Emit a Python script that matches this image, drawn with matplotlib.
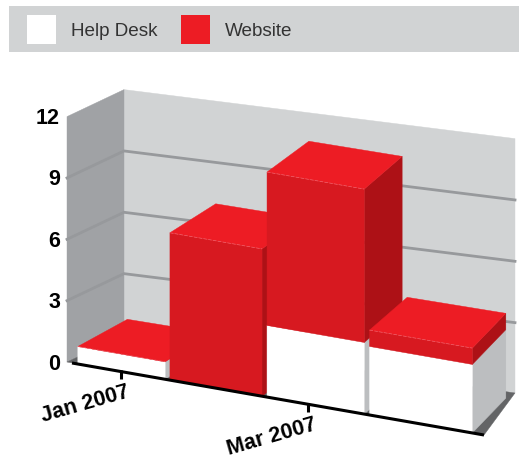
import numpy as np
import matplotlib
matplotlib.use("Agg")
import matplotlib.pyplot as plt
from matplotlib.patches import Polygon, Rectangle

categories = ["Jan 2007", "Feb 2007", "Mar 2007", "Apr 2007"]
help_desk = [0.85, 0.0, 3.5, 3.35]
website = [0.0, 7.2, 7.5, 0.8]
series_names = ["Help Desk", "Website"]
y_ticks = [0, 3, 6, 9, 12]
x_tick_labels = ["Jan 2007", "Mar 2007"]
x_tick_slots = [0.0, 1.93]

FONT = "Liberation Sans"
WALL = "#D1D3D4"; SIDE_WALL = "#A0A2A5"; GRID = "#97999C"; FLOOR = "#636466"
RED_TOP = "#ED1C24"; RED_FRONT = "#D71920"; RED_SIDE = "#AD1116"
WHITE_FRONT = "#FFFFFF"; WHITE_SIDE = "#BCBEC0"

# projection of the pseudo-3D scene onto the picture
F0, F1 = np.array([67., 362.]), np.array([484., 435.])
B0, B1 = np.array([124., 335.]), np.array([515., 384.])
FLOOR_BACK_RIGHT = np.array([515., 393.])
UNIT = 20.45
WARP = 1.12

def warp(u):
    return u / (WARP - (WARP - 1) * u)

def front(u, v=0.0):
    p = F0 + (F1 - F0) * warp(u)
    return p - np.array([0, v * UNIT])

def back(u, v=0.0):
    p = B0 + (B1 - B0) * warp(u)
    return p - np.array([0, v * UNIT])

def bar_pt(u, d, v):
    w = warp(u)
    depth = np.array([50 - 17 * w, -27 - 8 * w])
    return front(u, v) + depth * d

SLOT0, SLOT, BAR_W = 0.029, 0.2395, 0.2275

def tick_u(slot):
    return SLOT0 + SLOT * slot + BAR_W / 2

fig = plt.figure(figsize=(5.19, 4.62), dpi=100)
ax = fig.add_axes([0, 0, 1, 1])
ax.set_xlim(0, 519); ax.set_ylim(462, 0); ax.axis("off")

def poly(pts, color, z=1, ec=None, lw=0):
    ax.add_patch(Polygon(np.array(pts), closed=True, fc=color, ec=ec or color, lw=lw or 0.3, zorder=z, joinstyle="round"))

# legend band
ax.add_patch(Rectangle((9, 6), 510, 46, fc=WALL, ec="none", zorder=1))
for x, tx, name, col in zip([27, 181], [71, 225], series_names, ["#FFFFFF", RED_TOP]):
    ax.add_patch(Rectangle((x, 15), 29, 29, fc=col, ec="none", zorder=2))
    ax.text(tx, 31, name, fontsize=13.6, family=FONT, color="#333333", va="center", ha="left", zorder=3)

# walls and floor
top = y_ticks[-1]
poly([back(0), FLOOR_BACK_RIGHT, back(1, top), back(0, top)], WALL, 1)
poly([front(0), back(0), back(0, top), front(0, top)], SIDE_WALL, 1)
poly([front(0), front(1), FLOOR_BACK_RIGHT, back(0)], FLOOR, 1.5)
for v in y_ticks[1:-1]:
    a, b, c = front(0, v), back(0, v), back(1, v)
    ax.plot([a[0], b[0], c[0]], [a[1], b[1], c[1]], color=GRID, lw=2.0, zorder=2, solid_joinstyle="miter")

# bars, left to right
for i in range(len(categories)):
    u0 = SLOT0 + SLOT * i
    u1 = u0 + BAR_W
    z = 3 + i
    base = 0.0
    for val, fcol, scol in [(help_desk[i], WHITE_FRONT, WHITE_SIDE), (website[i], RED_FRONT, RED_SIDE)]:
        if val > 0:
            t = base + val
            poly([bar_pt(u1, 0, base), bar_pt(u1, 1, base), bar_pt(u1, 1, t), bar_pt(u1, 0, t)], scol, z)
            poly([bar_pt(u0, 0, base), bar_pt(u1, 0, base), bar_pt(u1, 0, t), bar_pt(u0, 0, t)], fcol, z)
            base = t
    poly([bar_pt(u0, 0, base), bar_pt(u1, 0, base), bar_pt(u1, 1, base), bar_pt(u0, 1, base)], RED_TOP, z)
    p, q = bar_pt(u0, 0, base), bar_pt(u1, 0, base)
    ax.plot([p[0], q[0]], [p[1], q[1]], color="#F0606A", lw=0.5, ls=(0, (5, 2)), zorder=z + 0.1)

# x axis line and ticks
a, b = front(0), front(1)
ax.plot([a[0] + 5, b[0]], [a[1] + 1, b[1]], color="black", lw=2.2, zorder=10, solid_capstyle="butt")
for slot, lab in zip(x_tick_slots, x_tick_labels):
    p = front(tick_u(slot))
    ax.plot([p[0], p[0]], [p[1] - 1, p[1] + 8], color="black", lw=2.2, zorder=10, solid_capstyle="butt")
    ax.text(p[0] + 5, p[1] + 10, lab, rotation=16, rotation_mode="anchor", ha="right", va="top",
            fontsize=15.5, fontweight="bold", family=FONT, color="black", zorder=11)

# y tick labels
for v in y_ticks:
    p = front(0, v)
    ax.text(60, p[1] + 2, str(v), ha="right", va="center", fontsize=15.5, fontweight="bold", family=FONT, color="black", zorder=11)

fig.savefig("out.png", dpi=100)
